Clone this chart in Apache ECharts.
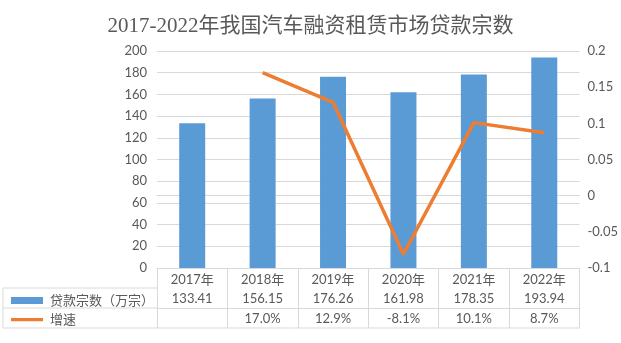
<!DOCTYPE html>
<html><head><meta charset="utf-8">
<script src="https://cdn.jsdelivr.net/npm/echarts@6/dist/echarts.min.js"></script>
<style>html,body{margin:0;padding:0;background:#fff}#c{width:621px;height:343px}</style>
</head><body><div id="c"></div>
<script>
const years = ['2017年','2018年','2019年','2020年','2021年','2022年'];
const loans = [133.41,156.15,176.26,161.98,178.35,193.94];
const growth = [null,0.170,0.129,-0.081,0.101,0.087];
const growthLabels = ['','17.0%','12.9%','-8.1%','10.1%','8.7%'];
const seriesNames = ['贷款宗数（万宗）','增速'];
const titleText = '2017-2022年我国汽车融资租赁市场贷款宗数';

const FONT = 'Lato, "Noto Sans CJK SC", sans-serif';
const gray = '#595959';
const border = '#d9d9d9';
const chart = echarts.init(document.getElementById('c'));
const L = 157, R = 580, T = 51, B = 268, ROW = 20;
chart.setOption({
  animation:false,
  title:{text:titleText,left:'center',top:11,textStyle:{fontFamily:'"Liberation Serif","Noto Sans CJK SC",serif',fontWeight:'normal',fontSize:21,color:gray}},
  grid:{left:L,right:621-R,top:T,bottom:343-B},
  legend:{orient:'vertical',left:6,top:289,itemWidth:32,itemHeight:7,itemGap:6,
    textStyle:{fontFamily:FONT,fontSize:13,color:gray,padding:[0,0,0,2]},
    data:[{name:seriesNames[0],icon:'rect'},
          {name:seriesNames[1],icon:'path://M0,0L0.01,0L0,0.01Z M0,2L32,2L32,5.2L0,5.2Z M32,7L31.99,7L32,6.99Z'}]},
  xAxis:[
    {type:'category',data:years,position:'bottom',
     axisLine:{show:true,lineStyle:{color:border}},
     axisTick:{show:true,length:ROW*3,inside:false,lineStyle:{color:border}},
     axisLabel:{fontFamily:FONT,fontSize:13,color:gray,margin:5}},
    {type:'category',data:loans.map(v=>v.toFixed(2)),position:'bottom',offset:ROW,
     axisLine:{show:true,lineStyle:{color:border}},axisTick:{show:false},
     axisLabel:{fontFamily:FONT,fontSize:13,color:gray,margin:4}},
    {type:'category',data:growthLabels,position:'bottom',offset:ROW*2,
     axisLine:{show:true,lineStyle:{color:border}},axisTick:{show:false},
     axisLabel:{fontFamily:FONT,fontSize:13,color:gray,margin:4}}
  ],
  yAxis:[
    {type:'value',min:0,max:200,interval:20,
     axisLine:{show:false},axisTick:{show:false},
     splitLine:{lineStyle:{color:border}},
     axisLabel:{fontFamily:FONT,fontSize:13,color:gray,margin:10}},
    {type:'value',min:-0.1,max:0.2,interval:0.05,
     axisLine:{show:false},axisTick:{show:false},splitLine:{show:false},
     axisLabel:{fontFamily:FONT,fontSize:13,color:gray,margin:8}}
  ],
  series:[
    {name:seriesNames[0],type:'bar',data:loans,barWidth:26,itemStyle:{color:'#5B9BD5'}},
    {name:seriesNames[1],type:'line',yAxisIndex:1,data:growth,symbol:'none',
     lineStyle:{color:'#ED7D31',width:3.5},itemStyle:{color:'#ED7D31'}}
  ],
  graphic:[
    {type:'line',shape:{x1:3,y1:B+ROW,x2:L,y2:B+ROW},style:{stroke:border,lineWidth:1}},
    {type:'line',shape:{x1:3,y1:B+ROW*2,x2:L,y2:B+ROW*2},style:{stroke:border,lineWidth:1}},
    {type:'line',shape:{x1:3,y1:B+ROW*3,x2:R,y2:B+ROW*3},style:{stroke:border,lineWidth:1}},
    {type:'line',shape:{x1:3,y1:B+ROW,x2:3,y2:B+ROW*3},style:{stroke:border,lineWidth:1}}
  ]
});
</script></body></html>
